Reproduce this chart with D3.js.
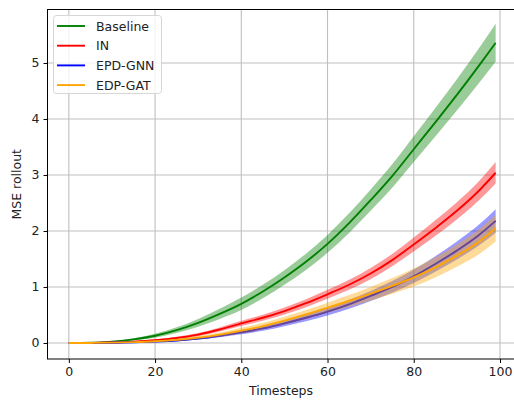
<!DOCTYPE html>
<html>
<head>
<meta charset="utf-8">
<script src="https://cdn.jsdelivr.net/npm/d3@7"></script>
<style>
  html, body { margin: 0; padding: 0; background: #fff; }
  svg { display: block; font-family: "DejaVu Sans", sans-serif; }
</style>
</head>
<body>
<svg id="chart" width="514" height="401"></svg>
<script>
// ---- data ----
const timesteps = [0, 5, 10, 15, 20, 25, 30, 35, 40, 45, 50, 55, 60, 65, 70, 75, 80, 85, 90, 95, 99];

const baselineMean = [0, 0.004, 0.025, 0.065, 0.13, 0.23, 0.36, 0.52, 0.70, 0.92, 1.17, 1.45, 1.77, 2.14, 2.55, 2.98, 3.46, 3.94, 4.43, 4.94, 5.36];
const baselineStd  = [0, 0.002, 0.008, 0.02, 0.035, 0.05, 0.07, 0.09, 0.11, 0.12, 0.13, 0.145, 0.16, 0.175, 0.19, 0.21, 0.23, 0.255, 0.28, 0.31, 0.34];

const inMean = [0, 0.002, 0.01, 0.025, 0.05, 0.09, 0.15, 0.24, 0.35, 0.45, 0.57, 0.71, 0.87, 1.04, 1.24, 1.48, 1.76, 2.05, 2.36, 2.71, 3.04];
const inStd  = [0, 0.001, 0.004, 0.008, 0.013, 0.02, 0.028, 0.036, 0.045, 0.053, 0.062, 0.071, 0.08, 0.09, 0.1, 0.11, 0.125, 0.14, 0.155, 0.17, 0.19];

const gnnMean = [0, 0.001, 0.005, 0.012, 0.025, 0.045, 0.08, 0.13, 0.19, 0.26, 0.35, 0.45, 0.56, 0.69, 0.84, 1.0, 1.19, 1.41, 1.65, 1.92, 2.18];
const gnnStd  = [0, 0.001, 0.002, 0.005, 0.01, 0.015, 0.02, 0.028, 0.035, 0.043, 0.05, 0.06, 0.07, 0.08, 0.09, 0.105, 0.12, 0.14, 0.16, 0.185, 0.21];

const gatMean = [0, 0.001, 0.006, 0.015, 0.03, 0.055, 0.095, 0.15, 0.22, 0.30, 0.40, 0.51, 0.63, 0.75, 0.88, 1.02, 1.17, 1.35, 1.56, 1.80, 2.05];
const gatStd  = [0, 0.001, 0.003, 0.006, 0.012, 0.02, 0.028, 0.038, 0.05, 0.06, 0.07, 0.08, 0.09, 0.105, 0.12, 0.14, 0.16, 0.18, 0.2, 0.22, 0.24];

const seriesNames  = ["Baseline", "IN", "EPD-GNN", "EDP-GAT"];
const seriesColors = ["#008000", "#ff0000", "#0000ff", "#ffa500"];
const seriesMeans  = [baselineMean, inMean, gnnMean, gatMean];
const seriesStds   = [baselineStd, inStd, gnnStd, gatStd];

const xTicks = [0, 20, 40, 60, 80, 100];
const yTicks = [0, 1, 2, 3, 4, 5];
const xLabel = "Timesteps";
const yLabel = "MSE rollout";

// ---- layout ----
const svg = d3.select("#chart");
const plot = { left: 47.5, right: 517, top: 9.5, bottom: 359 };
const fontSize = 12.5;

const x = d3.scaleLinear().domain([-4.95, 103.95]).range([plot.left, plot.right]);
const y = d3.scaleLinear().domain([-0.286, 5.955]).range([plot.bottom, plot.top]);

// grid
const grid = svg.append("g");
grid.selectAll("line.gx").data(xTicks).join("line")
  .attr("x1", d => x(d)).attr("x2", d => x(d))
  .attr("y1", plot.top).attr("y2", plot.bottom)
  .attr("stroke", "#bfbfbf").attr("stroke-width", 1.1);
grid.selectAll("line.gy").data(yTicks).join("line")
  .attr("y1", d => y(d)).attr("y2", d => y(d))
  .attr("x1", plot.left).attr("x2", plot.right)
  .attr("stroke", "#bfbfbf").attr("stroke-width", 1.1);

// series
svg.append("clipPath").attr("id", "clip").append("rect")
  .attr("x", plot.left).attr("y", plot.top)
  .attr("width", plot.right - plot.left).attr("height", plot.bottom - plot.top);
const marks = svg.append("g").attr("clip-path", "url(#clip)");

seriesNames.forEach((name, i) => {
  const mean = seriesMeans[i], std = seriesStds[i];
  const pts = timesteps.map((t, j) => ({ t, m: mean[j], s: std[j] }));
  const line = d3.line().x(d => x(d.t)).y(d => y(d.m)).curve(d3.curveMonotoneX);
  const area = d3.area().x(d => x(d.t)).y0(d => y(d.m - d.s)).y1(d => y(d.m + d.s)).curve(d3.curveMonotoneX);
  marks.append("path").datum(pts).attr("d", line)
    .attr("fill", "none").attr("stroke", seriesColors[i]).attr("stroke-width", 1.9);
  marks.append("path").datum(pts).attr("d", area)
    .attr("fill", seriesColors[i]).attr("fill-opacity", 0.4).attr("stroke", "none");
});

// axes
const xAxis = d3.axisBottom(x).tickValues(xTicks).tickFormat(d3.format("d")).tickSize(4).tickPadding(4);
const yAxis = d3.axisLeft(y).tickValues(yTicks).tickFormat(d3.format("d")).tickSize(4).tickPadding(4);
const gx = svg.append("g").attr("transform", `translate(0,${plot.bottom})`).call(xAxis);
const gy = svg.append("g").attr("transform", `translate(${plot.left},0)`).call(yAxis);
[gx, gy].forEach(g => {
  g.select(".domain").remove();
  g.selectAll(".tick line").attr("stroke", "#000").attr("stroke-width", 1);
  g.selectAll(".tick text").attr("fill", "#222").style("font-size", fontSize + "px")
    .style("font-family", "'DejaVu Sans', sans-serif");
});

// spines
svg.append("rect").attr("x", plot.left).attr("y", plot.top)
  .attr("width", plot.right - plot.left).attr("height", plot.bottom - plot.top)
  .attr("fill", "none").attr("stroke", "#000").attr("stroke-width", 1);

// axis labels
svg.append("text").attr("x", 281).attr("y", 395)
  .attr("text-anchor", "middle").attr("fill", "#222").style("font-size", fontSize + "px")
  .text(xLabel);
svg.append("text")
  .attr("transform", `translate(20.5,${(plot.top + plot.bottom) / 2}) rotate(-90)`)
  .attr("text-anchor", "middle").attr("fill", "#222").style("font-size", fontSize + "px")
  .text(yLabel);

// legend
const lg = svg.append("g");
lg.append("rect").attr("x", 53.5).attr("y", 15.5).attr("width", 108).attr("height", 78)
  .attr("rx", 3).attr("fill", "#fff").attr("fill-opacity", 0.8)
  .attr("stroke", "#d6d6d6").attr("stroke-width", 1);
seriesNames.forEach((name, i) => {
  const cy = 26 + i * 19.7;
  lg.append("line").attr("x1", 57).attr("x2", 85).attr("y1", cy).attr("y2", cy)
    .attr("stroke", seriesColors[i]).attr("stroke-width", 1.9);
  lg.append("text").attr("x", 96).attr("y", cy).attr("dy", "0.36em")
    .attr("fill", "#222").style("font-size", fontSize + "px").text(name);
});
</script>
</body>
</html>
